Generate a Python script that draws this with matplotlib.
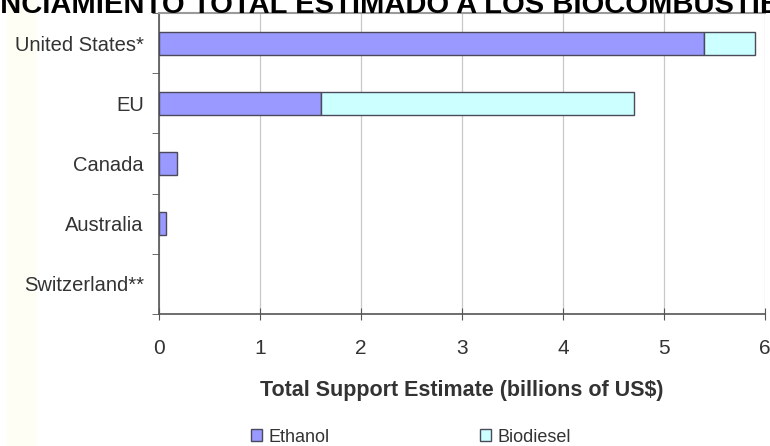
import numpy as np
import matplotlib.pyplot as plt
from matplotlib.patches import Rectangle

plt.rcParams['font.family'] = ['Liberation Sans', 'DejaVu Sans']

# --- datos (miles de millones de US$) ---
paises = ["United States*", "EU", "Canada", "Australia", "Switzerland**"]
etanol = [5.4, 1.6, 0.18, 0.07, 0.0]
biodiesel = [0.5, 3.1, 0.0, 0.0, 0.0]
xticks = [0, 1, 2, 3, 4, 5, 6]

COL_ETANOL = "#9999ff"
COL_BIO = "#ccffff"
BORDE = "#4a4a5a"
TEXTO = "#333333"

fig = plt.figure(figsize=(7.7, 4.46), dpi=100)
# franja clara a la izquierda (detras de todo)
fig.patches.append(Rectangle((7 / 770, 0), 28 / 770, 1, transform=fig.transFigure,
                             color="#fefef4", zorder=-5))
ax = fig.add_axes([159 / 770, 1 - 314 / 446, 606 / 770, 301 / 446])

y = np.arange(len(paises))
alto = 0.38
# sin borde cuando el valor es cero
lw_et = [1.0 if v > 0 else 0 for v in etanol]
lw_bio = [1.0 if v > 0 else 0 for v in biodiesel]
ax.barh(y, etanol, height=alto, color=COL_ETANOL, edgecolor=BORDE, lw=lw_et,
        label="Ethanol", zorder=3)
ax.barh(y, biodiesel, left=etanol, height=alto, color=COL_BIO, edgecolor=BORDE,
        lw=lw_bio, label="Biodiesel", zorder=3)

ax.set_xlim(0, 6)
ax.set_ylim(len(paises) - 0.5, -0.5)
ax.set_xticks(xticks)
ax.set_xticklabels([str(v) for v in xticks], fontsize=15, color=TEXTO)
ax.set_yticks(y)
ax.set_yticklabels(paises, fontsize=14.5, color=TEXTO)
ax.tick_params(axis="y", length=0, pad=11)
ax.set_yticks(np.arange(len(paises) + 1) - 0.5, minor=True)
ax.tick_params(axis="y", which="minor", length=5, color="#555555")
ax.tick_params(axis="x", direction="inout", length=8, color="#555555", pad=14)

ax.grid(axis="x", color="#c8c8c8", lw=0.9, zorder=0)
for lado in ["left", "bottom"]:
    ax.spines[lado].set_color("#555555")
    ax.spines[lado].set_linewidth(1.2)
ax.spines["top"].set_color("#9a9a9a")
ax.spines["top"].set_linewidth(1.5)
ax.spines["right"].set_visible(False)

ax.set_xlabel("Total Support Estimate (billions of US$)", fontsize=15.5,
              fontweight="bold", color=TEXTO, labelpad=16)

fig.text(0.5, 1 - 13 / 446, "FINANCIAMIENTO TOTAL ESTIMADO A LOS BIOCOMBUSTIBLES",
         ha="center", va="baseline", fontsize=21, fontweight="bold", color="black")

fig.legend(loc="center", bbox_to_anchor=(411 / 770, 1 - 437 / 446), ncol=2,
           frameon=False, fontsize=13, handlelength=0.6, handleheight=0.6,
           handletextpad=0.4, columnspacing=8.3, labelcolor=TEXTO)

fig.savefig("out.png", dpi=100)
